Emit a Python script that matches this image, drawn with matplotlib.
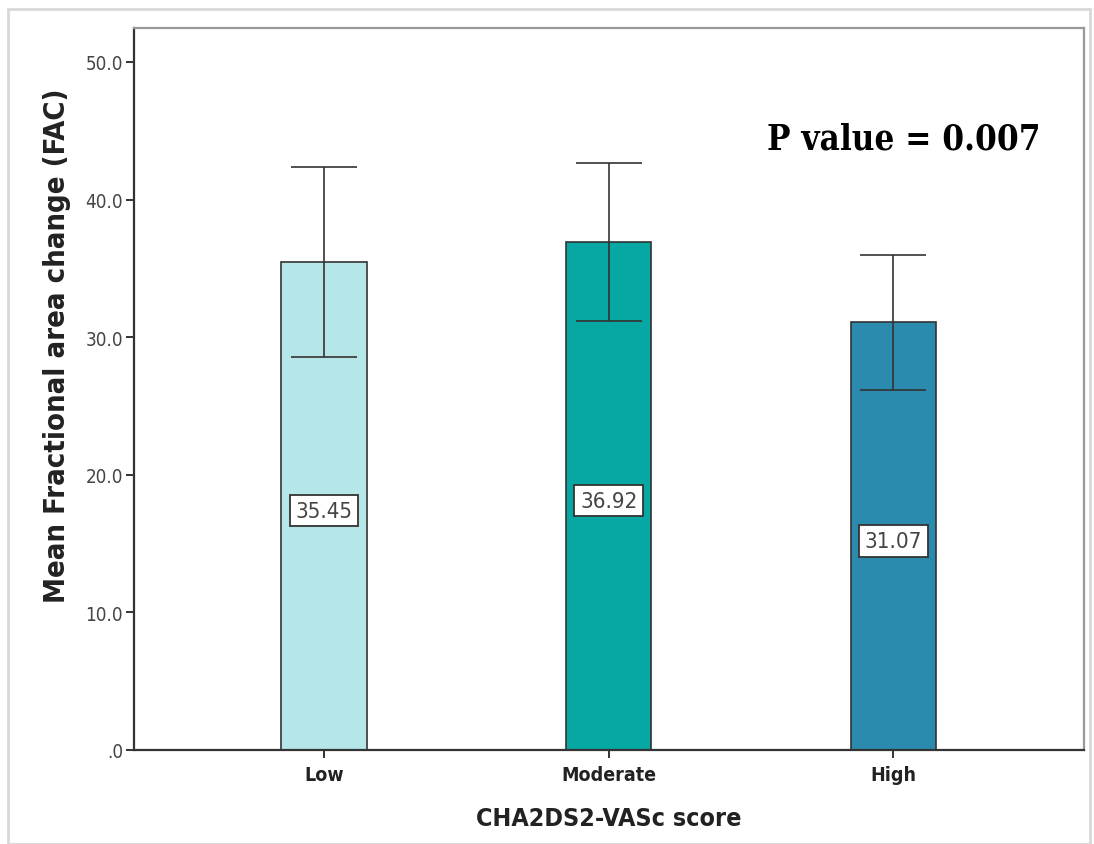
import matplotlib
matplotlib.use("Agg")
import matplotlib.pyplot as plt
from matplotlib.patches import Rectangle

categories = ["Low", "Moderate", "High"]
means = [35.45, 36.92, 31.07]
err_low = [28.55, 31.18, 26.16]
err_high = [42.35, 42.66, 35.97]
bar_colors = ["#b5e6e8", "#07a7a4", "#2a8bae"]
ytick_vals = [0, 10, 20, 30, 40, 50]
ytick_labels = [".0", "10.0", "20.0", "30.0", "40.0", "50.0"]
p_text = "P value = 0.007"

SANS = ["DejaVu Sans"]
COND = "condensed"

fig = plt.figure(figsize=(10.94, 8.45), dpi=100)
W, H = 1094, 845
fig.patches.append(Rectangle((8 / W, 0), (1090 - 8) / W, 1 - 10 / H, transform=fig.transFigure,
                             fill=False, edgecolor="#d8d8d8", linewidth=2.0))

ax = fig.add_axes([134 / W, 1 - 751 / H, (1084 - 134) / W, (751 - 29) / H])
x = list(range(len(categories)))
ax.bar(x, means, width=0.30, color=bar_colors, edgecolor="#333333", linewidth=1.2, zorder=2)
yerr = [[m - l for m, l in zip(means, err_low)], [h - m for m, h in zip(means, err_high)]]
ax.errorbar(x, means, yerr=yerr, fmt="none", ecolor="#333333", elinewidth=1.2,
            capsize=33 * 0.72, capthick=1.2, zorder=3)

for xi, m in zip(x, means):
    ax.text(xi, m / 2 - 0.35, f"{m:.2f}", ha="center", va="center", fontsize=16,
            family=SANS, fontstretch=COND, color="#444444", zorder=4,
            bbox=dict(boxstyle="square,pad=0.25", facecolor="white", edgecolor="#333333", linewidth=1.3))

ax.set_xlim(-0.667, 2.67)
ax.set_ylim(0, 52.47)
ax.set_yticks(ytick_vals)
ax.set_yticklabels(ytick_labels, family=SANS, fontstretch=COND, fontsize=13.5, color="#444444")
ax.set_xticks(x)
ax.set_xticklabels(categories, family=SANS, fontstretch=COND, fontsize=14, fontweight="bold",
                   color="#222222")
ax.tick_params(axis="both", length=6, width=1.4, color="#333333")
ax.tick_params(axis="x", pad=5)
ax.tick_params(axis="y", pad=2)

for s in ["left", "bottom"]:
    ax.spines[s].set_color("#333333")
    ax.spines[s].set_linewidth(1.6)
for s in ["top", "right"]:
    ax.spines[s].set_color("#999999")
    ax.spines[s].set_linewidth(1.6)

ax.set_ylabel("Mean Fractional area change (FAC)", family=SANS, fontstretch=COND, fontsize=21,
              fontweight="bold", color="#222222", va="center")
ax.yaxis.set_label_coords(-0.081, 0.561)
ax.set_xlabel("CHA2DS2-VASc score", family=SANS, fontstretch=COND, fontsize=18, color="#222222",
              fontweight="bold", labelpad=16)

fig.text(904 / W, 1 - 140 / H, p_text, ha="center", va="center", fontsize=25,
         family=["DejaVu Serif"], fontstretch=COND, fontweight="bold", color="black")

fig.savefig("out.png", dpi=100)
